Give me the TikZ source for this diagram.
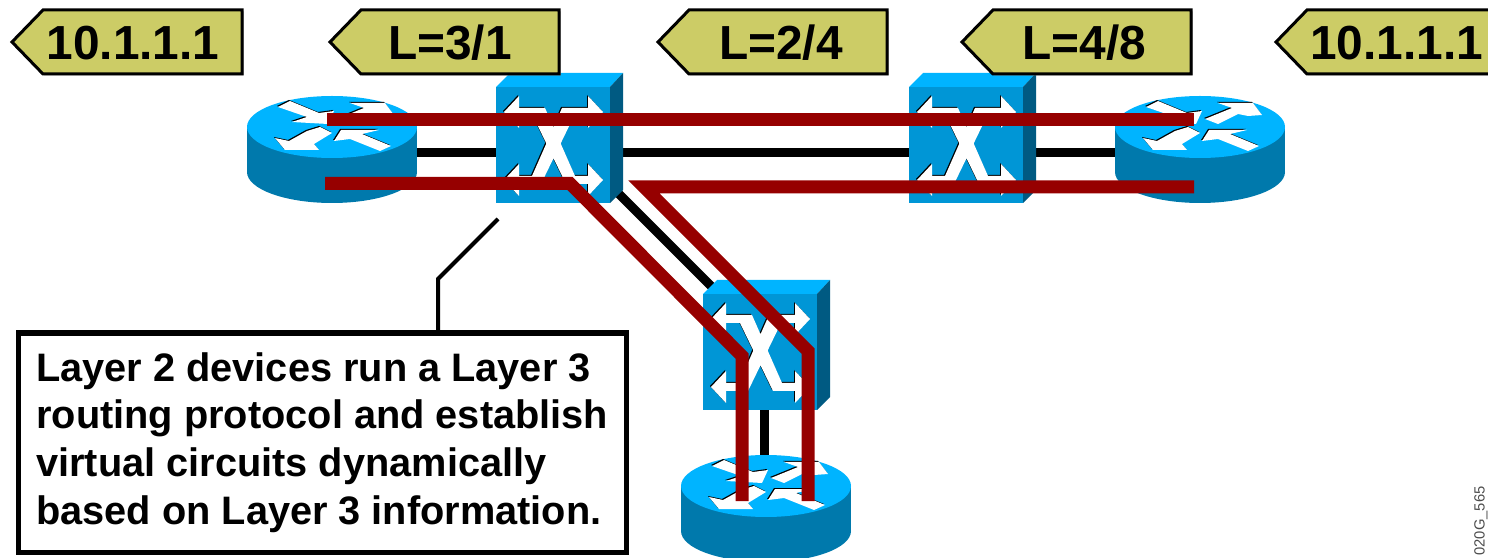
\documentclass[tikz,border=0pt]{standalone}
\usepackage{fontspec}
\setmainfont{Liberation Sans}
\definecolor{tagyellow}{HTML}{CCCC66}
\definecolor{devtop}{HTML}{00B4FF}
\definecolor{devfront}{HTML}{0096D6}
\definecolor{devside}{HTML}{0079AC}
\definecolor{devdark}{HTML}{005A82}
\definecolor{pathred}{HTML}{960000}
\tikzset{
	link/.style={line width=0.9mm, black},
	labelpath/.style={line width=1.3mm, pathred},
	leader/.style={line width=0.4mm, black},
	notebox/.style={draw=black, line width=0.5mm, fill=white, anchor=north west, minimum width=6.08cm, minimum height=2.19cm, align=left, font=\fontsize{11.3pt}{13.6pt}\selectfont\bfseries},
	tagtext/.style={font=\fontsize{13.6pt}{16pt}\selectfont\bfseries, inner sep=0pt}
}
\def\routerarrows{(-54,-20) -- (-42,-26) -- (-13,-14) -- (2,-16) -- (-4,-3) -- (-40,-5) -- (-25,-10) -- cycle
	(5,-8) -- (18,-3) -- (38,-13) -- (48,-11) -- (62,-12) -- (53,-24) -- (18,-24) -- (32,-19) -- cycle
	(-12,0) -- (0,6) -- (-18,17) -- (-13,23) -- (-47,23) -- (-57,11) -- (-43,14) -- (-25,4) -- cycle
	(2,14) -- (9,3) -- (47,3) -- (30,7) -- (59,19) -- (48,24) -- (18,12) -- cycle}
\def\switcharrows{(23,21) -- (49,21) -- (79,89) -- (92,89) -- (92,97) -- (70,97) -- (37,29) -- (23,29) -- cycle
	(92,21) -- (92,29) -- (78,29) -- (45,97) -- (23,97) -- (23,89) -- (36,89) -- (66,21) -- cycle
	(23,9) -- (23,41) -- (8,25) -- cycle
	(92,9) -- (107,25) -- (92,41) -- cycle
	(23,77) -- (23,109) -- (8,93) -- cycle
	(92,77) -- (107,93) -- (92,109) -- cycle}
\def\routerdev(#1,#2){
	\begin{scope}[shift={(#1,#2)}]
		\fill[devside] (-85,0) rectangle (85,45);
		\fill[devside] (0,45) ellipse (85 and 31);
		\fill[devtop] (0,0) ellipse (85 and 31);
		\fill[black, shift={(-1,-1)}] \routerarrows;
		\fill[white] \routerarrows;
	\end{scope}
}
\def\switchdev(#1,#2){
	\begin{scope}[shift={(#1,#2)}]
		\fill[devtop] (0,0) -- (14,-14) -- (127,-14) -- (114,0) -- cycle;
		\fill[devdark] (114,0) -- (127,-14) -- (127,103) -- (114,116) -- cycle;
		\fill[devfront] (0,0) rectangle (114,116);
		\fill[black, shift={(-1,-1)}] \switcharrows;
		\fill[white] \switcharrows;
	\end{scope}
}
\def\tagarrow(#1,#2,#3)(#4)#5{
	\fill[gray!70] (#1+1.5,43.5) -- (#1+32,11.5) -- (#2+1.5,11.5) -- (#2+1.5,75.5) -- (#1+32,75.5) -- cycle;
	\draw[fill=tagyellow, line width=0.3mm] (#1,42) -- (#1+31,10) -- (#2,10) -- (#2,74) -- (#1+31,74) -- cycle;
	\node[tagtext] (#4) at (#3,43) {#5};
}

\begin{document}
\begin{tikzpicture}[x=0.01cm, y=-0.01cm]
	\useasboundingbox (0,0) rectangle (1488,558);
	\clip (0,0) rectangle (1488,558);

	\coordinate (routerwest) at (332,152.5);
	\coordinate (routereast) at (1200,152.5);
	\coordinate (switchwest) at (553,152.5);
	\coordinate (switcheast) at (966,152.5);
	\coordinate (portdiag) at (618,193);
	\coordinate (switchsouth) at (745,320);
	\coordinate (switchfoot) at (764,350);
	\coordinate (routersouth) at (764,480);

	\draw[link] (routerwest) -- (switchwest);
	\draw[link] (switchwest) -- (switcheast);
	\draw[link] (switcheast) -- (routereast);
	\draw[link] (portdiag) -- (switchsouth);
	\draw[link] (switchfoot) -- (routersouth);

	\routerdev(332,127)
	\routerdev(1200,127)
	\routerdev(766,486)
	\switchdev(496,87)
	\switchdev(909,87)
	\switchdev(703,294)

	\coordinate (topstart) at (327,119.5);
	\coordinate (topend) at (1194,119.5);
	\coordinate (lowstart) at (325,183.5);
	\coordinate (lowbend) at (570,183.5);
	\coordinate (lowdiag) at (742,356);
	\coordinate (lowend) at (742,501);
	\coordinate (eaststart) at (1194,187);
	\coordinate (eastbend) at (644,187);
	\coordinate (eastdiag) at (808,351);
	\coordinate (eastend) at (808,501);

	\draw[labelpath] (topstart) -- (topend);
	\draw[labelpath] (lowstart) -- (lowbend) -- (lowdiag) -- (lowend);
	\draw[labelpath] (eaststart) -- (eastbend) -- (eastdiag) -- (eastend);

	\tagarrow(12,242,133)(tagwest){10.1.1.1}
	\tagarrow(330,559,450)(tagfirst){L=3/1}
	\tagarrow(658,887,781)(tagsecond){L=2/4}
	\tagarrow(962,1191,1084.5)(tagthird){L=4/8}
	\tagarrow(1276,1506,1396.5)(tageast){10.1.1.1}

	\node[notebox] (note) at (15.5,330.5) {Layer 2 devices run a Layer 3\\routing protocol and establish\\virtual circuits dynamically\\based on Layer 3 information.};

	\coordinate (leaderstart) at (498,219);
	\coordinate (leaderbend) at (438,279);
	\draw[leader] (leaderstart) -- (leaderbend) -- (leaderbend |- note.north);

	\node[rotate=90, inner sep=0pt, text=black!70, font=\fontsize{4.2pt}{5pt}\selectfont] (stamp) at (1481,521) {020G\_565};
\end{tikzpicture}
\end{document}
